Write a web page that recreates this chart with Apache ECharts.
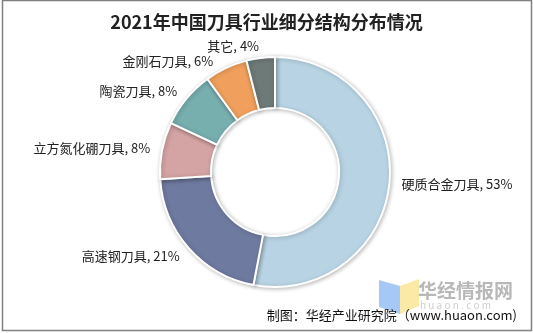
<!DOCTYPE html>
<html><head><meta charset="utf-8">
<script src="https://cdn.jsdelivr.net/npm/echarts@6/dist/echarts.min.js"></script>
<style>html,body{margin:0;padding:0;background:#fff}#c{width:533px;height:333px}</style>
</head><body><div id="c"></div>
<script>
const categories = ['硬质合金刀具', '高速钢刀具', '立方氮化硼刀具', '陶瓷刀具', '金刚石刀具', '其它'];
const values = [53, 21, 8, 8, 6, 4];
const colors = ['#b8d4e4', '#6f7aa0', '#d4a3a3', '#77aeae', '#f0a05c', '#6e7a78'];
const titleText = '2021年中国刀具行业细分结构分布情况';
const sourceText = '制图：华经产业研究院（www.huaon.com)';

const chart = echarts.init(document.getElementById('c'), null, {renderer: 'canvas'});
const font = '"Noto Sans CJK SC", "Noto Sans", sans-serif';
chart.setOption({
  backgroundColor: '#fff',
  animation: false,
  title: {
    text: titleText, left: 'center', top: 8,
    textStyle: {fontFamily: font, fontSize: 18, fontWeight: 'bold', color: '#222'}
  },
  graphic: [
    {type: 'rect', shape: {x: 2.5, y: 0.5, width: 529, height: 330}, style: {fill: 'none', stroke: '#808080', lineWidth: 1.5}, z: 100},
    {type: 'polygon', shape: {points: [[379, 280], [400, 286], [400, 314], [379, 307]]}, style: {fill: '#a6c8f7'}, z: 1},
    {type: 'polygon', shape: {points: [[400, 286], [419, 279], [419, 306], [400, 314]]}, style: {fill: '#fbeaa6'}, z: 1},
    {type: 'text', left: 418, top: 281, style: {text: '华经情报网', font: 'bold 19px ' + font, fill: '#b8b8b8'}, z: 1},
    {type: 'text', left: 420, top: 300, style: {text: 'h u a o n . c o m', font: '10px ' + font, fill: '#cfcfcf'}, z: 1},
    {type: 'text', right: 16, top: 309, style: {text: sourceText, font: '13px ' + font, fill: '#111'}, z: 10}
  ],
  series: [{
    type: 'pie',
    center: [275, 172],
    radius: [64, 115],
    startAngle: 90,
    clockwise: true,
    data: categories.map((n, i) => ({name: n, value: values[i], itemStyle: {color: colors[i]}})),
    itemStyle: {borderColor: '#fff', borderWidth: 2, shadowBlur: 4, shadowColor: 'rgba(0,0,0,0.25)', shadowOffsetX: 1, shadowOffsetY: 1},
    label: {
      show: true, position: 'outside', distanceToLabelLine: 0,
      formatter: p => p.name + ', ' + p.value + '%',
      fontFamily: font, fontSize: 13, color: '#222'
    },
    labelLine: {show: false, length: 12, length2: 0}
  }]
});
</script></body></html>
